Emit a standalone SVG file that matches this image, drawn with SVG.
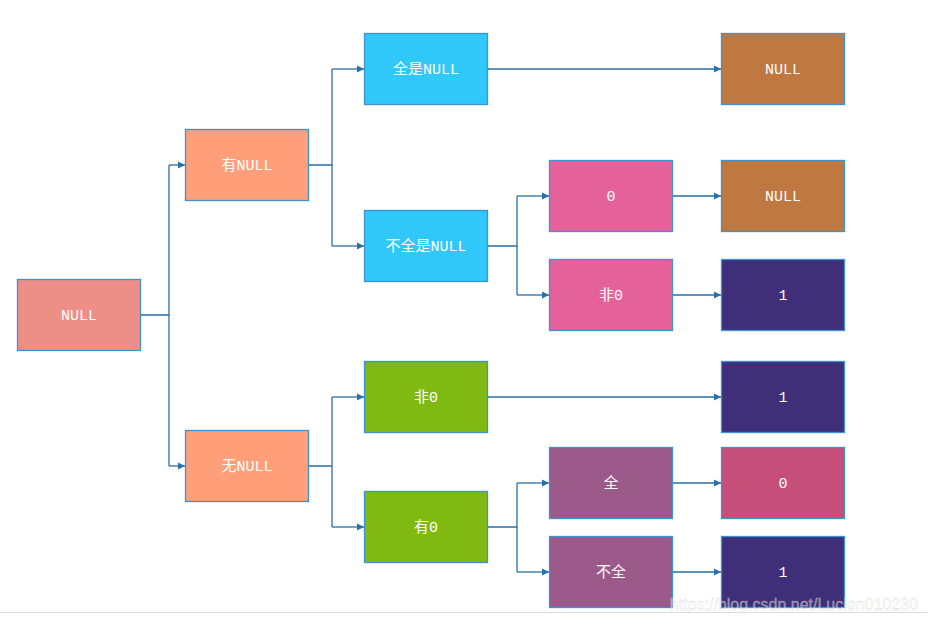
<svg xmlns="http://www.w3.org/2000/svg" width="928" height="623" viewBox="0 0 928 623">
<defs>
<marker id="arr" markerWidth="8" markerHeight="8" refX="7" refY="4" orient="auto" markerUnits="userSpaceOnUse">
<path d="M0,0.5 L7,4 L0,7.5 Z" fill="#2a6fa8"/>
</marker>
<style>
.n{stroke:#3a93d8;stroke-width:1.3}
.t{fill:#ffffff;font-family:"Liberation Mono","Noto Sans CJK SC",monospace;font-size:15px;text-anchor:middle;dominant-baseline:central}
.c{fill:none;stroke:#2a6fa8;stroke-width:1.3}
.a{marker-end:url(#arr)}
</style>
</defs>
<rect width="928" height="623" fill="#ffffff"/>
<g id="connectors">
<path class="c" d="M140,315 H169 V165"/>
<path class="c a" d="M169,165 H185"/>
<path class="c" d="M169,315 V466"/>
<path class="c a" d="M169,466 H185"/>
<path class="c" d="M308,165 H332 V69"/>
<path class="c a" d="M332,69 H364"/>
<path class="c" d="M332,165 V246"/>
<path class="c a" d="M332,246 H364"/>
<path class="c a" d="M487,69 H721"/>
<path class="c" d="M487,246 H517 V196"/>
<path class="c a" d="M517,196 H549"/>
<path class="c" d="M517,246 V295"/>
<path class="c a" d="M517,295 H549"/>
<path class="c a" d="M672,196 H721"/>
<path class="c a" d="M672,295 H721"/>
<path class="c" d="M308,466 H332 V397"/>
<path class="c a" d="M332,397 H364"/>
<path class="c" d="M332,466 V527"/>
<path class="c a" d="M332,527 H364"/>
<path class="c a" d="M487,397 H721"/>
<path class="c" d="M487,527 H517 V483"/>
<path class="c a" d="M517,483 H549"/>
<path class="c" d="M517,527 V572"/>
<path class="c a" d="M517,572 H549"/>
<path class="c a" d="M672,483 H721"/>
<path class="c a" d="M672,572 H721"/>
</g>
<g id="n-null"><rect class="n" x="17.5" y="279.5" width="123" height="71" fill="#ee8f87"/><text class="t" x="79" y="316">NULL</text></g>
<g id="n-younull"><rect class="n" x="185.5" y="129.5" width="123" height="71" fill="#fe9f79"/><text class="t" x="247" y="166">有NULL</text></g>
<g id="n-wunull"><rect class="n" x="185.5" y="430.5" width="123" height="71" fill="#fe9f79"/><text class="t" x="247" y="467">无NULL</text></g>
<g id="n-allnull"><rect class="n" x="364.5" y="33.5" width="123" height="71" fill="#2fc8f8"/><text class="t" x="426" y="70">全是NULL</text></g>
<g id="n-notallnull"><rect class="n" x="364.5" y="210.5" width="123" height="71" fill="#2fc8f8"/><text class="t" x="426" y="247">不全是NULL</text></g>
<g id="n-non0a"><rect class="n" x="364.5" y="361.5" width="123" height="71" fill="#7fb912"/><text class="t" x="426" y="398">非0</text></g>
<g id="n-has0"><rect class="n" x="364.5" y="491.5" width="123" height="71" fill="#7fb912"/><text class="t" x="426" y="528">有0</text></g>
<g id="n-zero"><rect class="n" x="549.5" y="160.5" width="123" height="71" fill="#e5619a"/><text class="t" x="611" y="197">0</text></g>
<g id="n-non0b"><rect class="n" x="549.5" y="259.5" width="123" height="71" fill="#e5619a"/><text class="t" x="611" y="296">非0</text></g>
<g id="n-all"><rect class="n" x="549.5" y="447.5" width="123" height="71" fill="#9b5a8a"/><text class="t" x="611" y="484">全</text></g>
<g id="n-notall"><rect class="n" x="549.5" y="536.5" width="123" height="71" fill="#9b5a8a"/><text class="t" x="611" y="573">不全</text></g>
<g id="r-null1"><rect class="n" x="721.5" y="33.5" width="123" height="71" fill="#bf783f"/><text class="t" x="783" y="70">NULL</text></g>
<g id="r-null2"><rect class="n" x="721.5" y="160.5" width="123" height="71" fill="#bf783f"/><text class="t" x="783" y="197">NULL</text></g>
<g id="r-one1"><rect class="n" x="721.5" y="259.5" width="123" height="71" fill="#3f2e78"/><text class="t" x="783" y="296">1</text></g>
<g id="r-one2"><rect class="n" x="721.5" y="361.5" width="123" height="71" fill="#3f2e78"/><text class="t" x="783" y="398">1</text></g>
<g id="r-zero"><rect class="n" x="721.5" y="447.5" width="123" height="71" fill="#c64f7a"/><text class="t" x="783" y="484">0</text></g>
<g id="r-one3"><rect class="n" x="721.5" y="536.5" width="123" height="71" fill="#3f2e78"/><text class="t" x="783" y="573">1</text></g>
<line x1="0" y1="612.5" x2="928" y2="612.5" stroke="#dddddd" stroke-width="1"/>
<text x="918" y="610" text-anchor="end" font-family="Liberation Sans, Arial, sans-serif" font-size="16" fill="#ffffff" fill-opacity="0.55" stroke="#cccccc" stroke-width="0.3" opacity="0.8">https://blog.csdn.net/Lucien010230</text>
</svg>
